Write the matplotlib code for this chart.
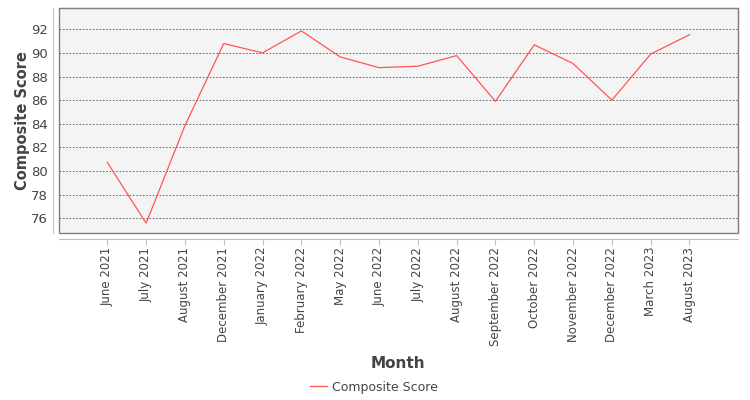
import matplotlib.pyplot as plt
from matplotlib.patches import Rectangle

months = ["June 2021", "July 2021", "August 2021", "December 2021", "January 2022",
          "February 2022", "May 2022", "June 2022", "July 2022", "August 2022",
          "September 2022", "October 2022", "November 2022", "December 2022",
          "March 2023", "August 2023"]
scores = [80.73, 75.58, 83.85, 90.79, 90.0, 91.86, 89.66, 88.75, 88.87, 89.77,
          85.9, 90.68, 89.1, 86.0, 89.9, 91.54]
y_ticks = [76, 78, 80, 82, 84, 86, 88, 90, 92]

fig = plt.figure(figsize=(7.5, 4), dpi=100)
ax = fig.add_axes([59/750, 1 - 233/400, (738 - 59)/750, (233 - 8)/400])
ax.set_facecolor('#f4f4f4')

x = list(range(len(months)))
ax.plot(x, scores, color='#ff5555', lw=0.9, label='Composite Score')

ax.set_xlim(-1.245, 16.25)
ax.set_ylim(74.75, 93.8)
ax.set_yticks(y_ticks)
ax.set_xticks(x)
ax.set_xticklabels(months)
ax.grid(axis='y', color='#555555', ls=(0, (2, 2)), lw=0.6)
ax.set_axisbelow(True)

for s in ['left', 'bottom']:
    ax.spines[s].set_position(('outward', 4))
    ax.spines[s].set_color('#c0c0c0')
for s in ['top', 'right']:
    ax.spines[s].set_color('#808080')
ax.add_patch(Rectangle((0, 0), 1, 1, transform=ax.transAxes, fill=False,
                       edgecolor='#808080', lw=1.0, clip_on=False))

ax.tick_params(axis='x', length=4, color='#c0c0c0', labelsize=8.5, labelcolor='#444444',
               pad=2, labelrotation=90)
ax.tick_params(axis='y', length=0, labelsize=9.5, labelcolor='#444444', pad=4)

ax.set_ylabel('Composite Score', fontsize=10.5, fontweight='bold', color='#444444', labelpad=1)
fig.text(398/750, 1 - 363/400, 'Month', ha='center', va='center',
         fontsize=11, fontweight='bold', color='#444444')

leg = fig.legend(loc='center', bbox_to_anchor=(374/750, 1 - 387/400), frameon=False,
                 fontsize=9, handlelength=1.3, handletextpad=0.4)
for t in leg.get_texts():
    t.set_color('#444444')

fig.savefig('out.png', dpi=100)
